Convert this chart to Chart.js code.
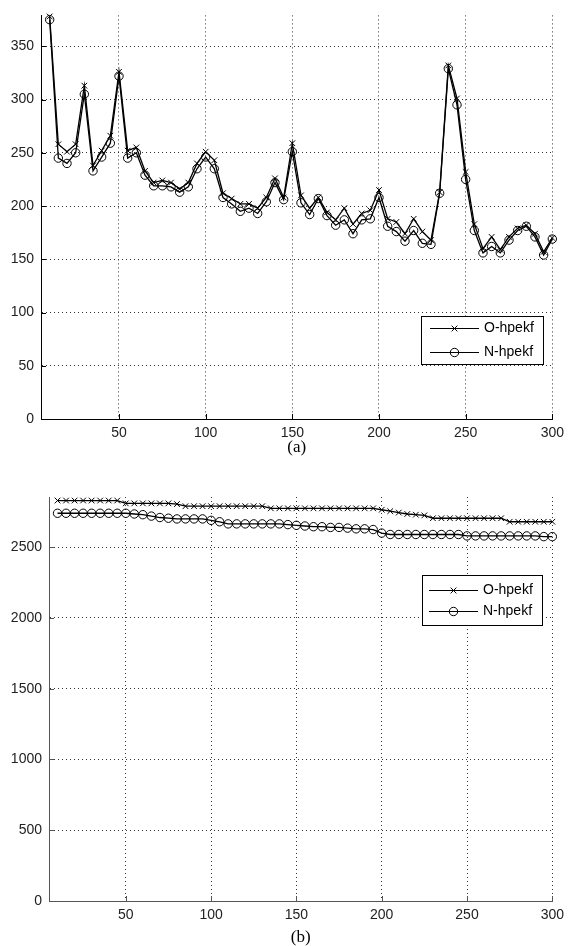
<!DOCTYPE html>
<html>
<head>
<meta charset="utf-8">
<script src="https://cdn.jsdelivr.net/npm/chart.js@4.4.1/dist/chart.umd.min.js"></script>
<style>
  html, body { margin: 0; padding: 0; background: #fff; }
  body { width: 570px; height: 946px; position: relative; overflow: hidden; }
  .panel { position: absolute; left: 0; width: 570px; height: 470px; }
  #wrapA { top: 0; }
  #wrapB { top: 476px; }
</style>
</head>
<body>
<div class="panel" id="wrapA"><canvas id="chartA" width="570" height="470"></canvas></div>
<div class="panel" id="wrapB"><canvas id="chartB" width="570" height="470"></canvas></div>
<script>
// x positions shared by both panels
const xs = [10, 15, 20, 25, 30, 35, 40, 45, 50, 55, 60, 65, 70, 75, 80, 85, 90, 95, 100,
  105, 110, 115, 120, 125, 130, 135, 140, 145, 150, 155, 160, 165, 170, 175, 180, 185, 190,
  195, 200, 205, 210, 215, 220, 225, 230, 235, 240, 245, 250, 255, 260, 265, 270, 275, 280,
  285, 290, 295, 300];

// panel (a)
const oHpekfA = [378, 258, 251, 258, 313, 238, 252, 266, 326, 252, 255, 233, 222, 224, 222,
  216, 222, 240, 251, 243, 212, 207, 202, 202, 198, 208, 226, 208, 259, 210, 198, 208, 194,
  187, 198, 183, 193, 196, 215, 188, 185, 174, 188, 176, 168, 213, 332, 301, 232, 183, 160,
  171, 159, 171, 179, 182, 174, 157, 170];
const nHpekfA = [375, 245, 240, 250, 305, 233, 246, 259, 322, 245, 250, 229, 219, 219, 218,
  213, 218, 235, 246, 235, 208, 202, 195, 198, 193, 204, 222, 206, 251, 203, 192, 207, 191,
  182, 187, 174, 187, 188, 208, 181, 176, 167, 177, 165, 164, 212, 329, 295, 225, 177, 156,
  162, 156, 168, 177, 181, 171, 154, 169];

// panel (b)
const oHpekfB = [2830, 2830, 2830, 2830, 2830, 2830, 2830, 2830, 2810, 2810, 2810, 2810, 2810,
  2810, 2805, 2790, 2790, 2790, 2790, 2790, 2790, 2790, 2790, 2790, 2790, 2775, 2775, 2775,
  2775, 2775, 2775, 2775, 2775, 2775, 2775, 2775, 2775, 2775, 2765, 2755, 2745, 2735, 2730,
  2725, 2705, 2705, 2705, 2705, 2705, 2705, 2705, 2705, 2705, 2680, 2680, 2680, 2680, 2680, 2680];
const nHpekfB = [2740, 2740, 2740, 2740, 2740, 2740, 2740, 2740, 2740, 2735, 2730, 2720, 2710,
  2705, 2700, 2700, 2700, 2700, 2690, 2680, 2665, 2665, 2665, 2665, 2665, 2665, 2665, 2660,
  2655, 2650, 2645, 2645, 2640, 2640, 2635, 2630, 2630, 2625, 2600, 2590, 2590, 2590, 2590,
  2590, 2590, 2590, 2590, 2590, 2580, 2580, 2580, 2580, 2580, 2580, 2580, 2580, 2580, 2575, 2575];

const seriesNames = ["O-hpekf", "N-hpekf"];
const xTicks = [50, 100, 150, 200, 250, 300];
const yTicksA = [0, 50, 100, 150, 200, 250, 300, 350];
const yTicksB = [0, 500, 1000, 1500, 2000, 2500];

const tickFont = { family: "'Liberation Sans', Arial, sans-serif", size: 14 };

// MATLAB style ticks pointing into the plot
const inwardTicks = {
  id: "inwardTicks",
  afterDatasetsDraw(chart, args, opts) {
    const { ctx, chartArea: a, scales: { x, y } } = chart;
    ctx.save();
    ctx.strokeStyle = opts.color;
    ctx.lineWidth = 1;
    ctx.beginPath();
    x.ticks.forEach(t => {
      const px = Math.round(x.getPixelForValue(t.value)) + 0.5;
      ctx.moveTo(px, a.bottom);
      ctx.lineTo(px, a.bottom - 5);
    });
    y.ticks.forEach(t => {
      const py = Math.round(y.getPixelForValue(t.value)) + 0.5;
      ctx.moveTo(a.left, py);
      ctx.lineTo(a.left + 5, py);
    });
    ctx.stroke();
    ctx.restore();
  },
};

// boxed legend inside the axes, line sample with marker in the middle
const boxLegend = {
  id: "boxLegend",
  afterDraw(chart, args, o) {
    const { ctx, chartArea: a } = chart;
    const left = Math.round(a.right - o.right - o.width);
    const top = Math.round(a.top + o.top);
    ctx.save();
    ctx.fillStyle = "#fff";
    ctx.fillRect(left, top, o.width, o.height);
    ctx.strokeStyle = "#000";
    ctx.lineWidth = 1;
    ctx.strokeRect(left + 0.5, top + 0.5, o.width, o.height);
    chart.data.datasets.forEach((ds, i) => {
      const cy = Math.round(top + o.rowTop + i * o.rowGap) + 0.5;
      const x0 = left + o.lineFrom, x1 = left + o.lineTo, cx = (x0 + x1) / 2;
      ctx.strokeStyle = "#000";
      ctx.lineWidth = 1;
      ctx.beginPath();
      ctx.moveTo(x0, cy);
      ctx.lineTo(x1, cy);
      ctx.stroke();
      ctx.beginPath();
      if (ds.pointStyle === "circle") {
        ctx.arc(cx, cy, ds.pointRadius, 0, Math.PI * 2);
      } else {
        const r = ds.pointRadius * 0.72;
        ctx.moveTo(cx - r, cy - r); ctx.lineTo(cx + r, cy + r);
        ctx.moveTo(cx - r, cy + r); ctx.lineTo(cx + r, cy - r);
      }
      ctx.stroke();
      ctx.fillStyle = "#000";
      ctx.font = "14px 'Liberation Sans', Arial, sans-serif";
      ctx.textBaseline = "middle";
      ctx.fillText(ds.label, left + o.textX, cy);
    });
    ctx.restore();
  },
};

function makeDatasets(oVals, nVals) {
  return [
    {
      label: seriesNames[0],
      data: oVals.map((v, i) => ({ x: xs[i], y: v })),
      borderColor: "#000",
      borderWidth: 1.3,
      pointStyle: "crossRot",
      pointRadius: 4,
      pointBorderColor: "#000",
      pointBorderWidth: 1,
      pointBackgroundColor: "rgba(0,0,0,0)",
      tension: 0,
      clip: false,
    },
    {
      label: seriesNames[1],
      data: nVals.map((v, i) => ({ x: xs[i], y: v })),
      borderColor: "#000",
      borderWidth: 1.3,
      pointStyle: "circle",
      pointRadius: 4.2,
      pointBorderColor: "#000",
      pointBorderWidth: 1,
      pointBackgroundColor: "rgba(0,0,0,0)",
      tension: 0,
      clip: false,
    },
  ];
}

function makeChart(canvas, cfg) {
  return new Chart(canvas, {
    type: "line",
    data: { datasets: makeDatasets(cfg.o, cfg.n) },
    options: {
      responsive: false,
      animation: false,
      events: [],
      layout: { padding: { top: cfg.padTop, right: cfg.padRight, left: 0, bottom: 0 } },
      plugins: {
        legend: { display: false },
        tooltip: { enabled: false },
        inwardTicks: { color: cfg.axisColor },
        boxLegend: cfg.legend,
      },
      scales: {
        x: {
          type: "linear",
          min: 5,
          max: 300,
          afterBuildTicks: s => { s.ticks = xTicks.map(v => ({ value: v })); },
          afterFit: s => { s.height = cfg.xHeight; },
          grid: { color: "#333", lineWidth: 1, drawTicks: false },
          border: { display: true, color: cfg.axisColor, width: 1, dash: [1, 3] },
          ticks: { color: "#222", font: tickFont, padding: 6, maxRotation: 0, autoSkip: false,
            callback: v => String(v) },
          title: {
            display: true,
            text: cfg.caption,
            color: "#000",
            font: { family: "'Liberation Serif', 'Times New Roman', serif", size: 17, lineHeight: 1 },
            padding: { top: 0, bottom: cfg.captionPad },
          },
        },
        y: {
          type: "linear",
          min: 0,
          max: cfg.yMax,
          afterBuildTicks: s => { s.ticks = cfg.yTicks.map(v => ({ value: v })); },
          afterFit: s => { s.width = cfg.yWidth; },
          grid: { color: "#333", lineWidth: 1, drawTicks: false },
          border: { display: true, color: cfg.axisColor, width: 1, dash: [1, 3] },
          ticks: { color: "#222", font: tickFont, padding: 7, callback: v => String(v) },
        },
      },
    },
    plugins: [inwardTicks, boxLegend],
  });
}

makeChart(document.getElementById("chartA"), {
  o: oHpekfA, n: nHpekfA,
  yMax: 379, yTicks: yTicksA,
  padTop: 14, padRight: 13, xHeight: 51, yWidth: 41,
  axisColor: "#000",
  caption: "(a)", captionPad: 14,
  legend: { width: 122, height: 48, right: 9, top: 301, rowTop: 12, rowGap: 23.5,
    lineFrom: 9, lineTo: 58, textX: 63 },
});

makeChart(document.getElementById("chartB"), {
  o: oHpekfB, n: nHpekfB,
  yMax: 2855, yTicks: yTicksB,
  padTop: 21, padRight: 14, xHeight: 45, yWidth: 49,
  axisColor: "#555",
  caption: "(b)", captionPad: 0,
  legend: { width: 120, height: 50, right: 10, top: 78, rowTop: 15, rowGap: 21,
    lineFrom: 7, lineTo: 56, textX: 61 },
});
</script>
</body>
</html>
